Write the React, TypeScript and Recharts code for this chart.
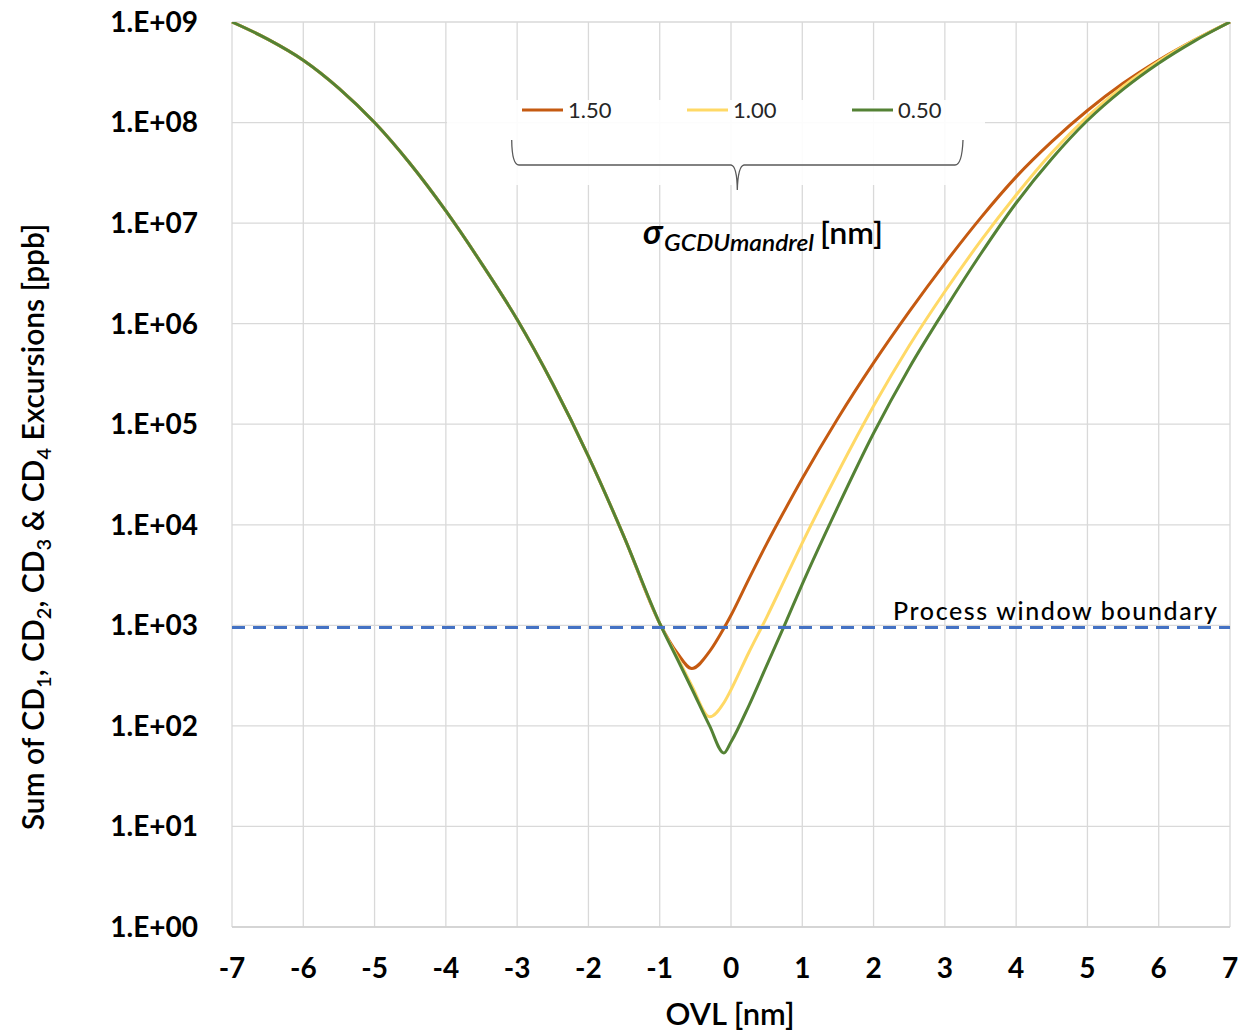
import { CartesianGrid, Line, LineChart, ReferenceLine, XAxis, YAxis } from "recharts";

// OVL positions [nm]
const OVL = [
  -7, -6.5, -6, -5.5, -5, -4.5, -4, -3.5, -3, -2.5, -2, -1.5, -1,
  -0.75, -0.55, -0.3, -0.1, 0, 0.25, 0.5, 0.75, 1, 1.5, 2, 2.5, 3, 3.5, 4,
  4.5, 5, 5.5, 6, 6.5, 7,
];

// negative-OVL branch is the same for every sigma
const LEFT_BRANCH = [
  1e9, 6.76e8, 4.17e8, 2.19e8, 1.0e8, 3.89e7, 1.32e7, 3.98e6, 1.1e6, 2.51e5,
  4.79e4, 7590, 1047,
];

const SUM_150 = [
  ...LEFT_BRANCH,
  525, 372, 550, 933, 1259, 2884, 6457, 13800, 28840, 114800, 407400, 1.318e6,
  3.98e6, 1.122e7, 2.884e7, 6.457e7, 1.318e8, 2.455e8, 4.169e8, 6.607e8, 1e9,
];
const SUM_100 = [
  ...LEFT_BRANCH,
  479, 251, 123, 170, 229, 537, 1202, 2818, 6607, 33110, 151400, 602600,
  2.089e6, 6.607e6, 1.905e7, 5.012e7, 1.148e8, 2.291e8, 4.074e8, 6.607e8, 1e9,
];
const SUM_050 = [
  ...LEFT_BRANCH,
  457, 234, 100, 53.7, 69.2, 158.5, 398, 1000, 2570, 15140, 81280, 363100,
  1.38e6, 4.898e6, 1.585e7, 4.365e7, 1.047e8, 2.138e8, 3.89e8, 6.457e8, 1e9,
];

const X_TICKS = [-7, -6, -5, -4, -3, -2, -1, 0, 1, 2, 3, 4, 5, 6, 7];
const Y_TICKS = [1, 1e1, 1e2, 1e3, 1e4, 1e5, 1e6, 1e7, 1e8, 1e9];
const BOUNDARY = 950;

const SERIES = [
  { key: "s150", name: "1.50", color: "#c55a11" },
  { key: "s100", name: "1.00", color: "#ffd966" },
  { key: "s050", name: "0.50", color: "#548235" },
];

const data = OVL.map((ovl, i) => ({
  ovl,
  s150: SUM_150[i],
  s100: SUM_100[i],
  s050: SUM_050[i],
}));

const FONT = "Lato, 'Open Sans', sans-serif";
const W = 1238;
const H = 1032;

const formatExp = (v: number) =>
  `1.E+${String(Math.round(Math.log10(v))).padStart(2, "0")}`;

function Annotations() {
  const legendX = [522, 687, 852];
  return (
    <svg
      width={W}
      height={H}
      style={{ position: "absolute", left: 0, top: 0, pointerEvents: "none" }}
      fontFamily={FONT}
    >
      <rect x={447} y={100} width={538} height={85} fill="#fff" opacity={0.9} />

      {SERIES.map((s, i) => (
        <g key={s.key}>
          <line
            x1={legendX[i]}
            x2={legendX[i] + 41}
            y1={110}
            y2={110}
            stroke={s.color}
            strokeWidth={3}
          />
          <text x={legendX[i] + 46} y={117.5} fontSize={22} fill="#262626">
            {s.name}
          </text>
        </g>
      ))}

      <path
        d="M511.7,140 Q512,165 519,165 L731,165 Q737,166 737.3,190 Q738,166 744,165 L955,165 Q962,165 963,140"
        fill="none"
        stroke="#595959"
        strokeWidth={1.3}
      />

      <text x={643} y={244} fontSize={34} fontWeight={700} fontStyle="italic" fill="#000">
        σ
      </text>
      <text
        x={664}
        y={251}
        fontSize={22}
        fontWeight={600}
        fontStyle="italic"
        fill="#000"
        textLength={150}
        lengthAdjust="spacingAndGlyphs"
      >
        GCDUmandrel
      </text>
      <text
        x={820}
        y={244}
        fontSize={30}
        fontWeight={600}
        fill="#000"
        textLength={63}
        lengthAdjust="spacingAndGlyphs"
      >
        [nm]
      </text>

      <text
        x={893}
        y={620}
        fontSize={25}
        fontWeight={500}
        fill="#000"
        textLength={324}
        lengthAdjust="spacing"
      >
        Process window boundary
      </text>

      <text
        x={730}
        y={1025}
        textAnchor="middle"
        fontSize={31}
        fontWeight={600}
        fill="#000"
      >
        OVL [nm]
      </text>

      <text
        transform="translate(44,527) rotate(-90)"
        textAnchor="middle"
        fontSize={30}
        fontWeight={600}
        fill="#000"
      >
        Sum of CD
        <tspan fontSize={20} dy={7}>1</tspan>
        <tspan dy={-7}>, CD</tspan>
        <tspan fontSize={20} dy={7}>2</tspan>
        <tspan dy={-7}>, CD</tspan>
        <tspan fontSize={20} dy={7}>3</tspan>
        <tspan dy={-7}> &amp; CD</tspan>
        <tspan fontSize={20} dy={7}>4</tspan>
        <tspan dy={-7}> Excursions [ppb]</tspan>
      </text>
    </svg>
  );
}

export default function App() {
  return (
    <div
      style={{
        position: "absolute",
        left: 0,
        top: 0,
        width: W,
        height: H,
        background: "#fff",
      }}
    >
      <LineChart
        width={W}
        height={H}
        data={data}
        margin={{ top: 22, right: 8, left: 0, bottom: 0 }}
      >
        <CartesianGrid stroke="#d9d9d9" strokeWidth={1.3} />
        <XAxis
          dataKey="ovl"
          type="number"
          domain={[-7, 7]}
          ticks={X_TICKS}
          height={105}
          tickSize={0}
          tickMargin={31}
          axisLine={{ stroke: "#d0d0d0", strokeWidth: 1.5 }}
          tick={{ fontFamily: FONT, fontSize: 28, fontWeight: 700, fill: "#000" }}
        />
        <YAxis
          type="number"
          scale="log"
          domain={[1, 1e9]}
          ticks={Y_TICKS}
          allowDataOverflow
          width={232}
          tickSize={0}
          tickMargin={34}
          axisLine={false}
          tickFormatter={formatExp}
          tick={{ fontFamily: FONT, fontSize: 28, fontWeight: 700, fill: "#000" }}
        />
        {SERIES.map((s) => (
          <Line
            key={s.key}
            dataKey={s.key}
            name={s.name}
            type="monotone"
            stroke={s.color}
            strokeWidth={3}
            dot={false}
            isAnimationActive={false}
          />
        ))}
        <ReferenceLine
          y={BOUNDARY}
          stroke="#4472c4"
          strokeWidth={3}
          strokeDasharray="13 8"
        />
      </LineChart>
      <Annotations />
    </div>
  );
}
